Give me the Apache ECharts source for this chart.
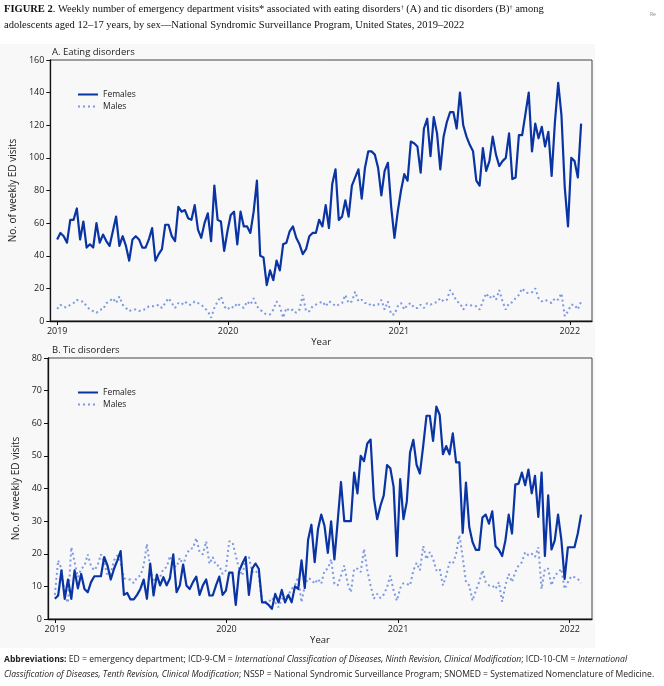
<!DOCTYPE html>
<html>
<head>
<meta charset="utf-8">
<script src="https://cdn.jsdelivr.net/npm/echarts@6/dist/echarts.min.js"></script>
<style>
html,body{margin:0;padding:0;background:#fff;}
#chart{width:664px;height:686px;}
</style>
</head>
<body>
<div id="chart"></div>
<script>
// Weekly values, week 0 = first week of 2019
const START_YEAR = 2019;
const WEEKS_PER_YEAR = 52.18;
const yearTicks = [2019, 2020, 2021, 2022];

const eatingFemales = [50,54,52,48,62,62,69,50,61,45,47,45,60,48,53,49,46,55,64,46,52,46,37,50,52,50,45,45,50,57,37,41,44,59,59,52,49,70,67,68,63,62,71,56,51,60,66,49,83,62,61,43,55,65,67,47,67,58,58,54,67,86,40,39,22,31,25,37,31,47,48,55,58,51,47,41,44,52,54,54,62,58,71,57,84,93,62,64,74,64,83,88,93,75,94,104,104,102,94,77,92,97,70,51,67,80,90,86,110,109,107,91,118,124,101,125,115,93,113,122,128,128,118,140,120,113,108,104,86,83,106,92,98,113,102,95,98,100,115,87,88,114,114,127,140,104,121,112,119,107,116,89,122,146,126,82,58,100,98,88,121];
const eatingMales = [7.4,10,8.4,8.4,10,11,13,12,12,9,7,6,5,7,7,11,12,14,11,15,10,8,6,7,7,6,7,7,9,9,9,10,8,11,14,11,8,11,10,12,10,10,12,11,10,8,6,2,8,12,15,9,7,9,8,11,9,8,12,10,14,9,7,5,4,4,7,12,9,2,8,6,7,5,7,16,6,6,9,10,11,12,9,12,11,9,10,11,16,11,12,18,12,13,11,11,9,10,10,13,7,12,4,4,9,11,7,10,11,8,8,10,8,11,10,11,11.5,14,12,13,19,16,12,11,7,10,10,9,9,7,12,17,14,16,13,19,12,7,11,11.5,14,16,20,17.6,17,17.6,20,14,12,13,12,11,14,13,17,3,6,10,10,7,12];
const ticFemales = [6.2,7.2,14.9,6.2,12.1,6.2,14.9,9.4,13.8,9.2,8.2,11.3,13.1,13.1,13.1,19,16.4,12.1,15.4,18,20.8,7.4,8,6,6,7.4,9.2,12.1,6.2,17,7.2,13.6,10.3,12.8,10.3,12.5,19.8,8.2,10.3,16.7,10.3,9.2,11.3,13,7.4,10.3,12.1,7.2,7.2,10.3,13,7.4,8.7,14.2,14.2,4.3,14.6,17,19,7.4,15.4,17,15.4,5.1,5.1,4.3,3.1,7.7,5.1,8.9,5.1,7.4,5.1,10,9.2,18,9.5,24.3,28.9,17.4,27.5,32,28.5,20.3,29.9,18.3,30,42,30,30,30,44.9,38.5,50,48.4,53.8,55,37,30.6,34.7,37.9,47.2,46.2,40.5,19.3,42.9,30.6,35.9,51,54.9,47.2,44.6,53.1,62.3,62.3,54.6,65.1,62.6,50.5,53,50.5,56.9,48,48,26.4,41.8,28.2,23.6,21.2,21.2,31.1,32,29.2,33,22.3,21.2,19.3,24.1,32,26.2,41.2,41.5,44.9,41,45.8,38.5,43.9,31.3,44.9,19.3,37.9,21.3,24.1,32,24.3,12.3,22,22,22,26.2,32];
const ticMales = [7.4,18,15.4,7,5,22,17.4,12.8,15.4,16.2,19.8,16.2,14.9,16.4,19.8,17.4,13.3,14,18,19.5,17.2,12.5,12.1,12.1,11,12.8,13.3,16.4,23,15.4,11.3,13.3,12.8,15.4,15.9,19.3,16.4,15.9,18.8,16.4,19.8,21.5,21.7,24.8,20.5,19.8,23.8,16.9,19,16.4,16.4,13.8,14.9,23.8,23.6,19.5,15.4,13.3,18.5,19,14.4,14.9,13.3,5.1,5.3,5.1,6.5,5.1,3.6,6.2,6.4,7.4,9.2,10.3,12.8,5.1,10.3,12.5,12.1,10.8,12.3,10.8,14.9,15.4,18.3,10.8,10.3,13.3,16.4,11,8.2,15.4,15.4,14.4,21.5,14.9,10.3,6.2,7.7,6.4,7.5,9.7,13.3,8.7,5.6,9.4,11,10.8,10.3,14.9,17.2,14.9,22.4,18.3,20.5,18.5,14.9,15.4,10.3,13.3,17.4,16.9,20,25.8,19,11.3,10.3,5.6,8.7,11.3,14.9,11.3,10.3,10.3,9.2,11.3,5.3,10.3,13.8,11.3,14.4,16.4,17.4,20.5,19.5,20,19,22,9.2,15.4,15.4,10.3,13.3,14.2,15.4,9.2,11.3,13.1,12.8,12.3,11];

const seriesNames = ['Females', 'Males'];
const panelTitles = ['A. Eating disorders', 'B. Tic disorders'];
const yAxisTitle = 'No. of weekly ED visits';
const xAxisTitle = 'Year';

function toPairs(arr){ return arr.map((v,i)=>[START_YEAR + i/WEEKS_PER_YEAR, v]); }

const FEM = '#0a33a3';
const MAL = '#7e98e2';
const FONT = 'Open Sans';

function xAxisCfg(gi){
  return {
    type:'value', gridIndex:gi, min:2018.96, max:2022.13,
    name:xAxisTitle, nameLocation:'middle', nameGap:13,
    nameTextStyle:{fontFamily:FONT, fontSize:9.5, color:'#222'},
    axisLine:{lineStyle:{color:'#111', width:1.3}},
    axisTick:{customValues:yearTicks, length:4, lineStyle:{color:'#111'}},
    axisLabel:{customValues:yearTicks, formatter:v=>String(Math.round(v)), fontFamily:FONT, fontSize:9, color:'#222', margin:6},
    splitLine:{show:false}
  };
}
function yAxisCfg(gi, max, interval){
  return {
    type:'value', gridIndex:gi, min:0, max:max, interval:interval,
    name:yAxisTitle, nameLocation:'middle', nameGap:24,
    nameTextStyle:{fontFamily:FONT, fontSize:10, color:'#222'},
    axisLine:{show:true, lineStyle:{color:'#111', width:1.3}},
    axisTick:{show:true, length:4, lineStyle:{color:'#111'}},
    axisLabel:{fontFamily:FONT, fontSize:9, color:'#222', margin:6},
    splitLine:{show:false}
  };
}
function lineSeries(name, gi, data, isFem){
  return {
    type:'line', name:name, xAxisIndex:gi, yAxisIndex:gi,
    data:toPairs(data), showSymbol:false, symbol:'none', animation:false,
    z: isFem ? 3 : 2,
    lineStyle: isFem ? {color:FEM, width:2.2, join:'round'} : {color:MAL, width:2, type:[2,3], cap:'butt'},
    itemStyle:{color: isFem ? FEM : MAL}
  };
}
function legendCfg(top){
  return {left:72, top:top, orient:'vertical', itemWidth:20, itemHeight:10, itemGap:3, data:seriesNames,
    itemStyle:{opacity:0},
    textStyle:{fontFamily:FONT, fontSize:8.5, color:'#222'}, selectedMode:false};
}

const chart = echarts.init(document.getElementById('chart'), null, {renderer:'canvas'});
chart.setOption({
  backgroundColor:'#ffffff',
  animation:false,
  grid:[
    {left:48, top:60, width:544, height:261, show:true, borderColor:'#444', borderWidth:1, backgroundColor:'transparent'},
    {left:48, top:358, width:544, height:261, show:true, borderColor:'#444', borderWidth:1, backgroundColor:'transparent'}
  ],
  xAxis:[xAxisCfg(0), xAxisCfg(1)],
  yAxis:[yAxisCfg(0,160,20), yAxisCfg(1,80,10)],
  legend:[legendCfg(85), legendCfg(383)],
  graphic:[
    {type:'rect', z:-10, silent:true, shape:{x:0, y:44, width:595, height:604}, style:{fill:'#f7f8f7'}},
    {type:'text', left:4, top:4, style:{
      text:'{b|FIGURE 2}. Weekly number of emergency department visits* associated with eating disorders{s|†} (A) and tic disorders (B){s|†} among',
      font:'10.5px "Liberation Serif"', fill:'#111',
      rich:{b:{fontWeight:'bold', fontFamily:'Liberation Serif', fontSize:10.5}, s:{fontSize:6, fontFamily:'Liberation Serif', verticalAlign:'top'}}
    }},
    {type:'text', left:4, top:20, style:{
      text:'adolescents aged 12–17 years, by sex—National Syndromic Surveillance Program, United States, 2019–2022',
      font:'10.5px "Liberation Serif"', fill:'#111'
    }},
    {type:'text', left:650, top:12, style:{text:'Re', font:'5px "Open Sans"', fill:'#888'}},
    {type:'text', left:52, top:47, style:{text:panelTitles[0], font:'9.5px "Open Sans"', fill:'#222'}},
    {type:'text', left:52, top:345, style:{text:panelTitles[1], font:'9.5px "Open Sans"', fill:'#222'}},
    {type:'text', left:4, top:655, style:{
      text:'{b|Abbreviations:} ED = emergency department; ICD-9-CM = {i|International Classification of Diseases, Ninth Revision, Clinical Modification}; ICD-10-CM = {i|International}',
      font:'8.6px "Open Sans"', fill:'#222',
      rich:{b:{fontWeight:'bold', fontFamily:'Open Sans', fontSize:8.6}, i:{fontStyle:'italic', fontFamily:'Open Sans', fontSize:8.6}}
    }},
    {type:'text', left:4, top:670, style:{
      text:'{i|Classification of Diseases, Tenth Revision, Clinical Modification}; NSSP = National Syndromic Surveillance Program; SNOMED = Systematized Nomenclature of Medicine.',
      font:'8.6px "Open Sans"', fill:'#222',
      rich:{i:{fontStyle:'italic', fontFamily:'Open Sans', fontSize:8.6}}
    }}
  ],
  series:[
    lineSeries('Males',0,eatingMales,false),
    lineSeries('Females',0,eatingFemales,true),
    lineSeries('Males',1,ticMales,false),
    lineSeries('Females',1,ticFemales,true)
  ]
});
</script>
</body>
</html>
